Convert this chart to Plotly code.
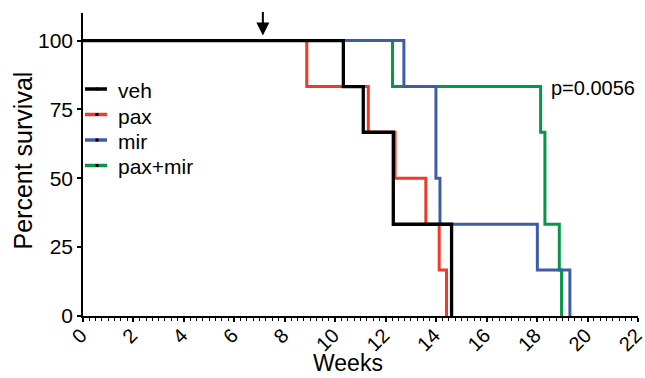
import plotly.graph_objects as go

# Kaplan-Meier step data (weeks, percent survival)
series_names = ["veh", "pax", "mir", "pax+mir"]
series_colors = ["#000000", "#EF3A28", "#3F5CA8", "#07954A"]

veh_weeks = [0, 10.32, 11.11, 12.30, 14.61]
veh_surv = [100, 83.3, 66.7, 33.3, 0]

pax_weeks = [0, 8.87, 11.31, 12.37, 13.59, 14.12, 14.41]
pax_surv = [100, 83.3, 66.7, 50, 33.3, 16.7, 0]

mir_weeks = [0, 12.72, 13.99, 14.15, 18.01, 19.30]
mir_surv = [100, 83.3, 50, 33.3, 16.7, 0]

paxmir_weeks = [0, 12.27, 18.14, 18.31, 18.88, 18.97]
paxmir_surv = [100, 83.3, 66.7, 33.3, 16.7, 0]

x_ticks = list(range(0, 23, 2))
y_ticks = [0, 25, 50, 75, 100]
arrow_week = 7.13
p_text = "p=0.0056"

FONT = "Liberation Sans, Arial, sans-serif"

data = {
    "veh": (veh_weeks, veh_surv),
    "pax": (pax_weeks, pax_surv),
    "mir": (mir_weeks, mir_surv),
    "pax+mir": (paxmir_weeks, paxmir_surv),
}
color_of = dict(zip(series_names, series_colors))

W, H = 645, 378
ML, MR, MT, MB = 83, 7, 13, 62
PW, PH = W - ML - MR, H - MT - MB


def px_x(p):
    return (p - ML) / PW


def px_y(p):
    return (H - MB - p) / PH


fig = go.Figure()
# draw order: green, blue, red, black (black on top)
for name in ["pax+mir", "mir", "pax", "veh"]:
    xs, ys = data[name]
    fig.add_trace(go.Scatter(
        x=xs, y=ys, mode="lines",
        line=dict(color=color_of[name], width=3.3 if name == "veh" else 3, shape="hv"),
        showlegend=False, hoverinfo="skip"))

# manual legend (line + small black square + label)
for i, name in enumerate(series_names):
    yc = px_y(89 + 25.5 * i)
    fig.add_shape(type="line", xref="paper", yref="paper", x0=px_x(85), x1=px_x(107), y0=yc, y1=yc,
                  line=dict(color=color_of[name], width=3.5))
    fig.add_shape(type="rect", xref="paper", yref="paper", x0=px_x(95.5), x1=px_x(98.5),
                  y0=yc - 1.5 / PH, y1=yc + 1.5 / PH, line=dict(width=0), fillcolor="black")
    fig.add_annotation(xref="paper", yref="paper", x=px_x(116), y=px_y(90.5 + 25.5 * i), text=name,
                       showarrow=False, xanchor="left", yanchor="middle",
                       font=dict(family=FONT, size=21, color="black"))

fig.add_annotation(x=arrow_week, y=101.8, xref="x", yref="y", text="", showarrow=True,
                   ax=0, ay=-25, arrowhead=2, arrowsize=1.3, arrowwidth=2, arrowcolor="black")
fig.add_annotation(xref="paper", yref="paper", x=px_x(549), y=px_y(88), text=p_text, showarrow=False,
                   xanchor="left", yanchor="middle", font=dict(family=FONT, size=20, color="black"))

# axis titles
fig.add_annotation(xref="paper", yref="paper", x=px_x(347.5), y=px_y(362.5), text="Weeks", showarrow=False,
                   xanchor="center", yanchor="middle", font=dict(family=FONT, size=23, color="black"))
fig.add_annotation(xref="paper", yref="paper", x=px_x(22.5), y=px_y(161), text="Percent survival",
                   showarrow=False, textangle=-90, xanchor="center", yanchor="middle",
                   font=dict(family=FONT, size=25, color="black"))

fig.update_layout(
    width=W, height=H,
    margin=dict(l=ML, r=MR, t=MT, b=MB, autoexpand=False),
    paper_bgcolor="white", plot_bgcolor="white",
    font=dict(family=FONT, color="black"),
    showlegend=False,
    xaxis=dict(range=[0, 22], tickvals=x_ticks, ticktext=[str(t) for t in x_ticks],
               tickangle=-45, ticks="outside", ticklen=4, tickwidth=1.5, tickcolor="black",
               showline=True, linecolor="black", linewidth=1.5, showgrid=False, zeroline=False,
               tickfont=dict(family=FONT, size=20), automargin=False, ticklabeloverflow="allow",
               ticklabelstandoff=-6, ticklabelshift=-2,
               minor=dict(dtick=0.25, ticks="outside", ticklen=3, tickwidth=1, tickcolor="black", showgrid=False)),
    yaxis=dict(range=[0, 110], tickvals=y_ticks, ticks="outside", ticklen=4, tickwidth=1.5, tickcolor="black",
               showline=True, linecolor="black", linewidth=1.5, showgrid=False, zeroline=False,
               tickfont=dict(family=FONT, size=21), automargin=False, ticklabeloverflow="allow"),
)

fig.write_html("out.html", config={"displayModeBar": False},
               post_script="document.body.style.margin='0';document.body.style.overflow='hidden';")
